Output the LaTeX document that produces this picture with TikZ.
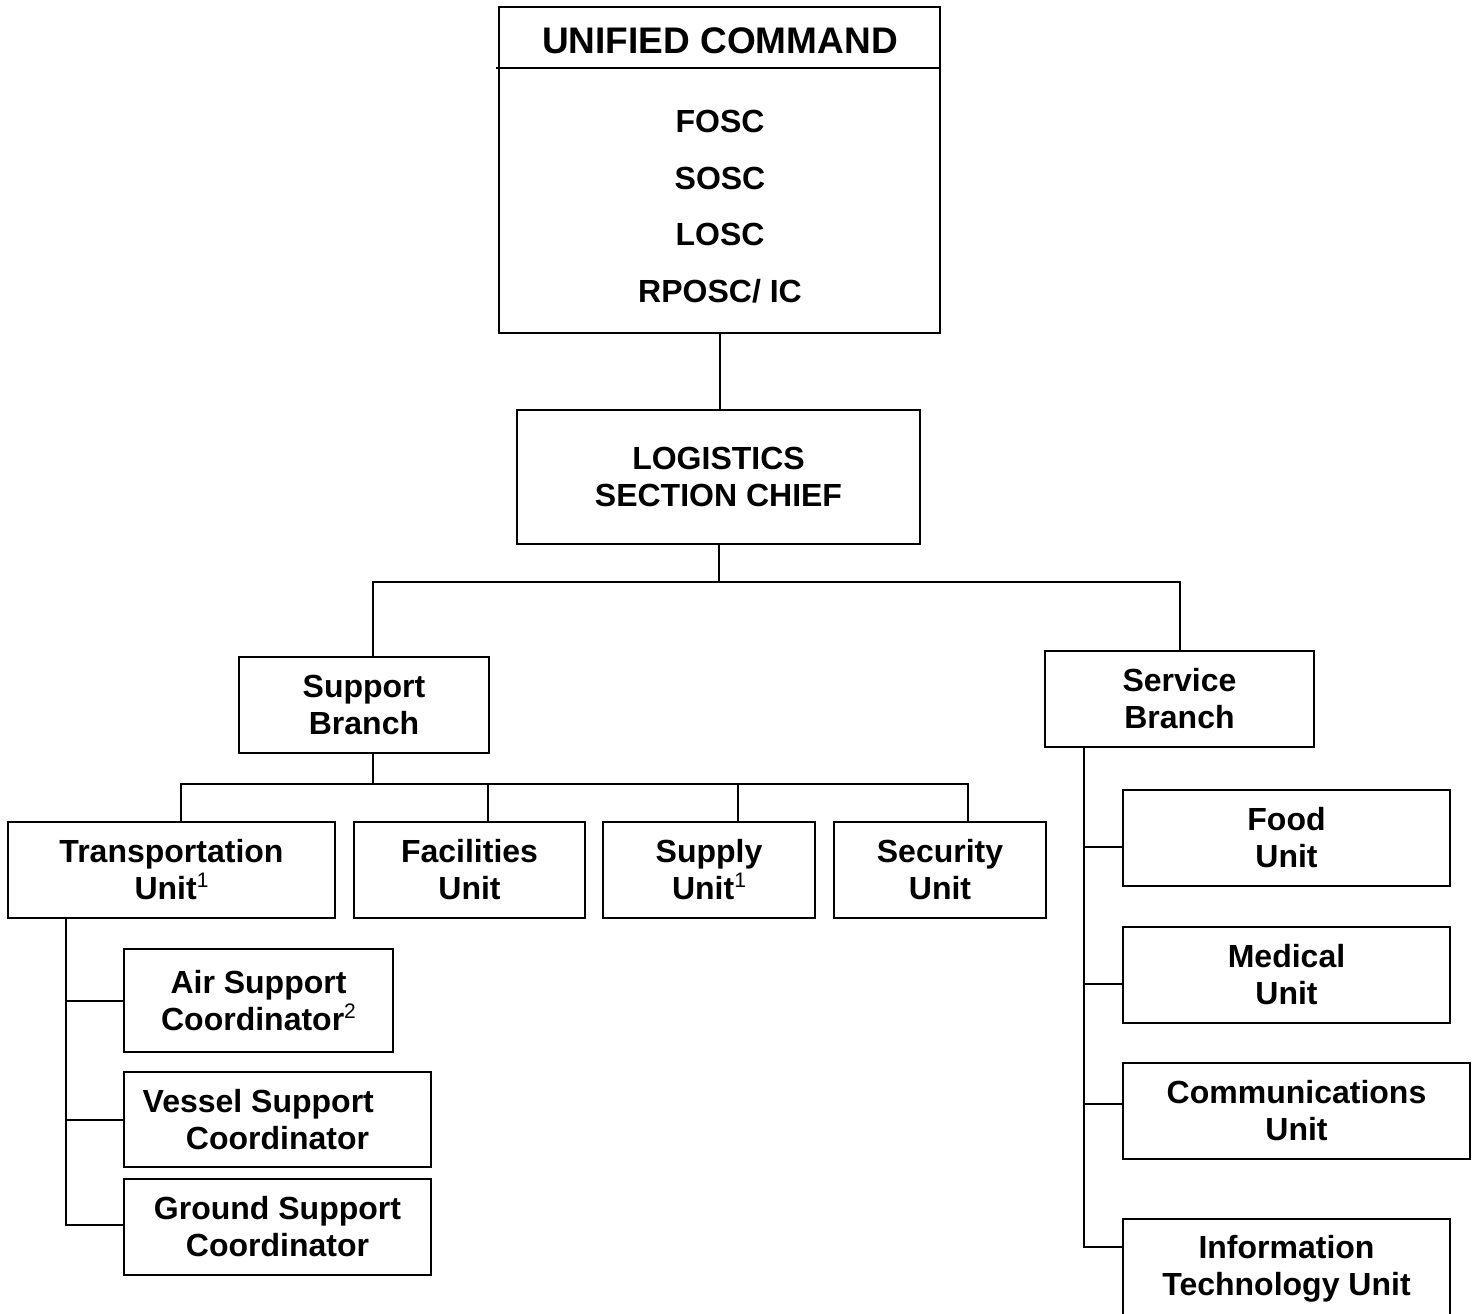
\documentclass[tikz,border=0pt]{standalone}
\usepackage{fontspec}
\setmainfont{Liberation Sans}
\newcommand{\fnmark}[1]{\raisebox{12pt}{\fontsize{21}{21}\selectfont\mdseries #1}}
\begin{document}
\begin{tikzpicture}[x=1pt,y=-1pt,
  box/.style={draw, line width=2pt, rectangle, inner sep=0pt, align=center,
              font=\bfseries\fontsize{32}{37}\selectfont},
  link/.style={line width=2pt}]
\useasboundingbox (0,0) rectangle (1480,1314);

% Unified command
\node[box, minimum width=441pt, minimum height=326pt] (uc) at (719.5,170) {};
\node[font=\bfseries\fontsize{37}{37}\selectfont, inner sep=0pt] (uctitle) at (720,41) {UNIFIED COMMAND};
\node[font=\bfseries\fontsize{32}{56.5}\selectfont, align=center, inner sep=0pt] (ucbody) at (720,206.5)
  {FOSC\\SOSC\\LOSC\\RPOSC/ IC};
\draw[link] ([shift={(-2pt,-62pt)}]uc.north west) -- ([yshift=-62pt]uc.north east);

% Section chief and branches
\node[box, minimum width=403pt, minimum height=134pt] (lsc) at (718.5,477) {LOGISTICS\\SECTION CHIEF};
\node[box, minimum width=250pt, minimum height=96pt] (sup) at (364,705) {Support\\Branch};
\node[box, minimum width=269pt, minimum height=96pt] (svc) at (1179.5,699) {Service\\Branch};

% Support branch units
\node[box, minimum width=327pt, minimum height=96pt] (tu) at (171.5,870) {Transportation\\Unit\fnmark{1}};
\node[box, minimum width=231pt, minimum height=96pt] (fac) at (469.5,870) {Facilities\\Unit};
\node[box, minimum width=212pt, minimum height=96pt] (spl) at (709,870) {Supply\\Unit\fnmark{1}};
\node[box, minimum width=212pt, minimum height=96pt] (sec) at (940,870) {Security\\Unit};

% Transportation coordinators
\node[box, minimum width=269pt, minimum height=103pt] (air) at (258.5,1000.5) {Air Support\\Coordinator\fnmark{2}};
\node[box, minimum width=307pt, minimum height=95pt] (ves) at (277.5,1119.5) {Vessel Support\hspace*{1.2em}\\Coordinator};
\node[box, minimum width=307pt, minimum height=96pt] (gnd) at (277.5,1227) {Ground Support\\Coordinator};

% Service branch units
\node[box, minimum width=327pt, minimum height=96pt] (food) at (1286.5,838) {Food\\Unit};
\node[box, minimum width=327pt, minimum height=96pt] (med) at (1286.5,975) {Medical\\Unit};
\node[box, minimum width=347pt, minimum height=96pt] (com) at (1296.5,1111) {Communications\\Unit};
\node[box, minimum width=327pt, minimum height=100pt] (itu) at (1286.5,1269) {Information\\Technology Unit};

% Connectors
\coordinate (lbus) at (720,582);
\coordinate (sbus) at (373,784);
\draw[link] (uc.south) -- (uc.south |- lsc.north);
\draw[link] (lsc.south) -- (lsc.south |- lbus);
\draw[link] ([xshift=9pt]sup.north) |- (lbus) -| (svc.north);

\draw[link] ([xshift=9pt]sup.south) -- (sbus);
\draw[link] ([xshift=9.5pt]tu.north) |- (sbus) -| ([xshift=28pt]sec.north);
\draw[link] ([xshift=18.5pt]fac.north) -- ([xshift=18.5pt]fac.north |- sbus);
\draw[link] ([xshift=29pt]spl.north) -- ([xshift=29pt]spl.north |- sbus);

\coordinate (tv) at ([xshift=-105.5pt]tu.south);
\draw[link] (tv) |- ([yshift=2pt]gnd.west);
\draw[link] (air.west) -| (tv);
\draw[link] (ves.west) -| (tv);

\coordinate (sv) at ([xshift=-95.5pt]svc.south);
\draw[link] (sv) |- ([yshift=22pt]itu.west);
\draw[link] ([yshift=-9pt]food.west) -| (sv);
\draw[link] ([yshift=-9pt]med.west) -| (sv);
\draw[link] ([yshift=7pt]com.west) -| (sv);
\end{tikzpicture}
\end{document}
